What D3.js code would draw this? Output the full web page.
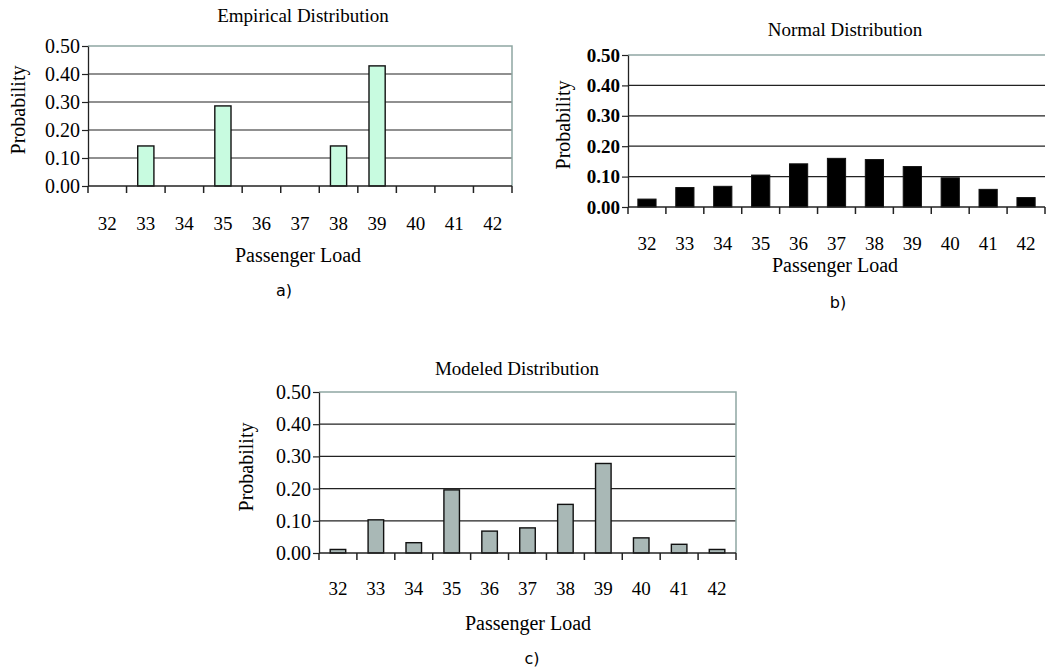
<!DOCTYPE html>
<html>
<head>
<meta charset="utf-8">
<script src="https://cdn.jsdelivr.net/npm/d3@7"></script>
<style>
  body { margin: 0; background: #fff; }
  svg { display: block; }
</style>
</head>
<body>
<svg id="chart" width="1055" height="670"></svg>
<script>
const loads = ["32", "33", "34", "35", "36", "37", "38", "39", "40", "41", "42"];
const yTicks = [0, 0.1, 0.2, 0.3, 0.4, 0.5];

// probabilities
const empirical = [0, 0.143, 0, 0.286, 0, 0, 0.143, 0.429, 0, 0, 0];
const normal = [0.026, 0.064, 0.068, 0.105, 0.142, 0.160, 0.156, 0.133, 0.096, 0.058, 0.031];
const modeled = [0.011, 0.103, 0.032, 0.196, 0.068, 0.078, 0.151, 0.278, 0.047, 0.027, 0.011];

const svg = d3.select("#chart");
const serif = "'Liberation Serif', 'Times New Roman', serif";

function panel(opt) {
  const x = d3.scaleBand().domain(loads).range([opt.left, opt.right]).paddingInner(opt.pad).paddingOuter(opt.pad / 2);
  const xTick = d3.scaleBand().domain(loads).range([opt.left, opt.right]);
  const y = d3.scaleLinear().domain([0, 0.5]).range([opt.bottom, opt.top]);
  const g = svg.append("g").style("font-family", serif);

  // gridlines
  g.selectAll("line.grid")
    .data(yTicks.filter(d => d > 0 && d < 0.5))
    .join("line")
    .attr("class", "grid")
    .attr("x1", opt.left).attr("x2", opt.right)
    .attr("y1", d => y(d)).attr("y2", d => y(d))
    .attr("stroke", "#222").attr("stroke-width", 1.2);

  // plot frame top/right
  g.append("path")
    .attr("d", `M${opt.left},${y(0.5)}H${opt.right}` + (opt.rightBorder ? `V${y(0)}` : ""))
    .attr("fill", "none").attr("stroke", "#8fa6a3").attr("stroke-width", 1.5);

  // bars
  g.selectAll("rect")
    .data(opt.values.map((v, i) => ({ load: loads[i], v })).filter(d => d.v > 0))
    .join("rect")
    .attr("x", d => x(d.load))
    .attr("y", d => y(d.v))
    .attr("width", x.bandwidth())
    .attr("height", d => y(0) - y(d.v))
    .attr("fill", opt.fill)
    .attr("stroke", "#111").attr("stroke-width", opt.stroke);

  // y axis
  const ya = g.append("g").attr("transform", `translate(${opt.left},0)`)
    .call(d3.axisLeft(y).tickValues(yTicks).tickFormat(d3.format(".2f")).tickSize(6).tickSizeOuter(0));
  ya.select(".domain").attr("stroke", "#222").attr("stroke-width", 1.3);
  ya.selectAll(".tick line").attr("stroke", "#222").attr("stroke-width", 1.2);
  ya.selectAll(".tick text")
    .attr("x", -8)
    .style("font-family", serif)
    .style("font-size", opt.yFont + "px")
    .style("font-weight", opt.yBold ? "bold" : "normal")
    .attr("fill", "#000");

  // x axis: tick marks between categories, labels centred under them
  const xa = g.append("g");
  xa.append("line")
    .attr("x1", opt.left).attr("x2", opt.right)
    .attr("y1", y(0)).attr("y2", y(0))
    .attr("stroke", "#222").attr("stroke-width", 1.3);
  xa.selectAll("line.tk")
    .data(loads.concat(["end"]))
    .join("line")
    .attr("class", "tk")
    .attr("x1", (d, i) => i < loads.length ? xTick(d) : opt.right)
    .attr("x2", (d, i) => i < loads.length ? xTick(d) : opt.right)
    .attr("y1", y(0)).attr("y2", y(0) + 7)
    .attr("stroke", "#222").attr("stroke-width", 1.5);
  xa.selectAll("text")
    .data(loads)
    .join("text")
    .attr("x", d => xTick(d) + xTick.bandwidth() / 2)
    .attr("y", opt.tickY)
    .attr("text-anchor", "middle")
    .attr("dominant-baseline", "central")
    .style("font-size", opt.xFont + "px")
    .text(d => d);

  // titles
  g.append("text")
    .attr("x", opt.titleX).attr("y", opt.titleY)
    .attr("text-anchor", "middle").attr("dominant-baseline", "central")
    .style("font-size", "19px")
    .text(opt.title);
  g.append("text")
    .attr("x", opt.xLabelX).attr("y", opt.xLabelY)
    .attr("text-anchor", "middle").attr("dominant-baseline", "central")
    .style("font-size", "20px")
    .text("Passenger Load");
  g.append("text")
    .attr("transform", `translate(${opt.yLabelX},${opt.yLabelY}) rotate(-90)`)
    .attr("text-anchor", "middle").attr("dominant-baseline", "central")
    .style("font-size", "20px")
    .text("Probability");
  g.append("text")
    .attr("x", opt.capX).attr("y", opt.capY)
    .attr("text-anchor", "middle").attr("dominant-baseline", "central")
    .style("font-family", "'DejaVu Sans', sans-serif")
    .style("font-size", "16px")
    .text(opt.caption);
}

panel({
  values: empirical, title: "Empirical Distribution", caption: "a)",
  left: 88, right: 512, top: 46, bottom: 186, pad: 0.58,
  fill: "#c8fbe0", stroke: 1.4, rightBorder: true,
  yFont: 20, yBold: false, xFont: 19, tickY: 223,
  titleX: 303, titleY: 15, xLabelX: 298, xLabelY: 255,
  yLabelX: 18, yLabelY: 110, capX: 284, capY: 290
});

panel({
  values: normal, title: "Normal Distribution", caption: "b)",
  left: 628, right: 1045, top: 55, bottom: 207, pad: 0.52,
  fill: "#000", stroke: 1, rightBorder: false,
  yFont: 19, yBold: true, xFont: 19, tickY: 243,
  titleX: 845, titleY: 29, xLabelX: 835, xLabelY: 265,
  yLabelX: 563, yLabelY: 125, capX: 838, capY: 302
});

panel({
  values: modeled, title: "Modeled Distribution", caption: "c)",
  left: 319, right: 736, top: 392, bottom: 553, pad: 0.59,
  fill: "#a9b8b6", stroke: 1.4, rightBorder: true,
  yFont: 20, yBold: false, xFont: 19, tickY: 588,
  titleX: 517, titleY: 368, xLabelX: 528, xLabelY: 623,
  yLabelX: 246, yLabelY: 467, capX: 532, capY: 658
});
</script>
</body>
</html>
